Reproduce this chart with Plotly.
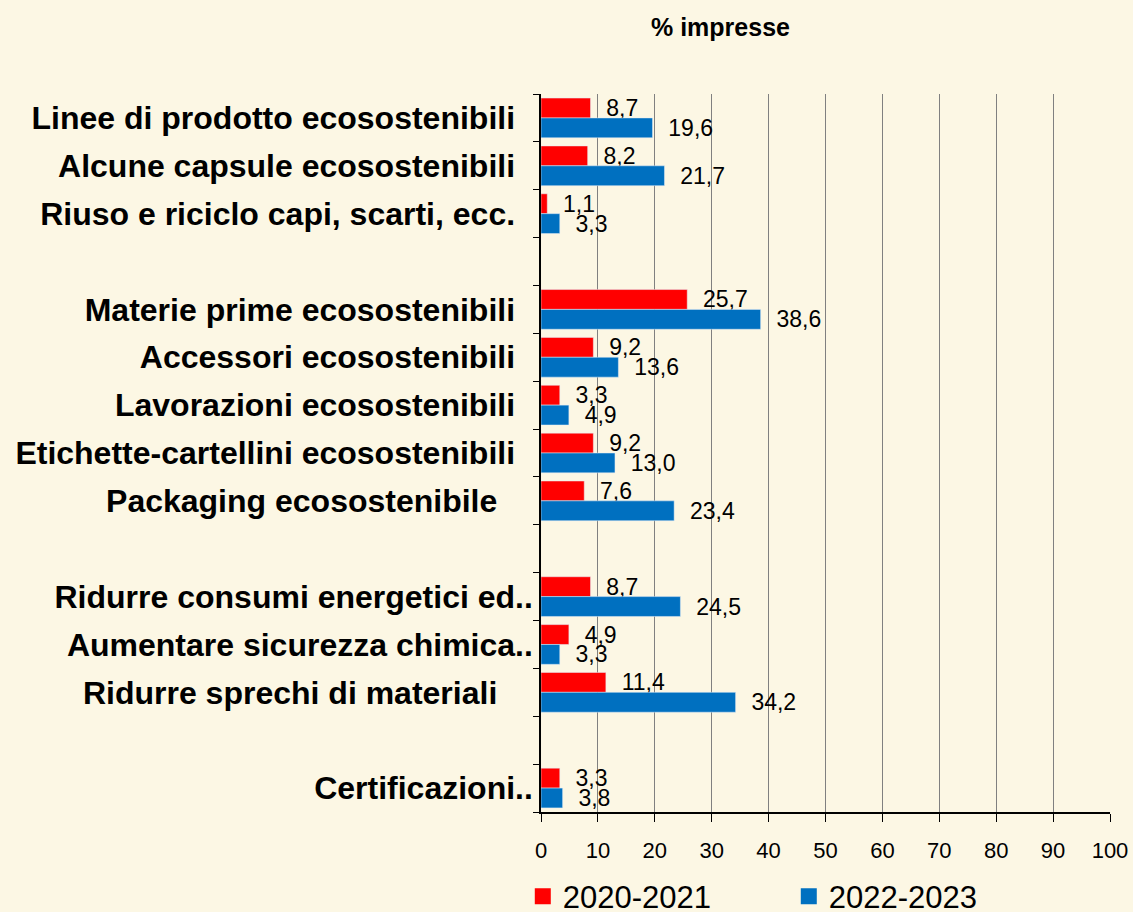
import plotly.graph_objects as go

# categories top to bottom; blank entries are the gaps between groups
categories = [
    "Linee di prodotto ecosostenibili",
    "Alcune capsule ecosostenibili",
    "Riuso e riciclo capi, scarti, ecc.",
    "\u00a0",
    "Materie prime ecosostenibili",
    "Accessori ecosostenibili",
    "Lavorazioni ecosostenibili",
    "Etichette-cartellini ecosostenibili",
    "Packaging ecosostenibile",
    "\u00a0\u00a0",
    "Ridurre consumi energetici ed..",
    "Aumentare sicurezza chimica..",
    "Ridurre sprechi di materiali",
    "\u00a0\u00a0\u00a0",
    "Certificazioni..",
]
values_2020_2021 = [8.7, 8.2, 1.1, None, 25.7, 9.2, 3.3, 9.2, 7.6, None, 8.7, 4.9, 11.4, None, 3.3]
values_2022_2023 = [19.6, 21.7, 3.3, None, 38.6, 13.6, 4.9, 13.0, 23.4, None, 24.5, 3.3, 34.2, None, 3.8]
x_ticks = list(range(0, 101, 10))

BG = "#FCF7E4"
NB = "\u00a0"
# trailing padding so the labels line up like in the original
label_pad = {
    "Packaging ecosostenibile": 4,
    "Ridurre sprechi di materiali": 4,
}
series = [
    ("2020-2021", values_2020_2021, "#FF0000"),
    ("2022-2023", values_2022_2023, "#0070C0"),
]


def fmt(values):
    return [NB + NB + f"{v:.1f}".replace(".", ",") if v is not None else "" for v in values]


fig = go.Figure()
for name, vals, color in series:
    fig.add_trace(go.Bar(
        y=categories, x=vals, orientation="h", name=name, showlegend=False,
        marker_color=color, text=fmt(vals), textposition="outside",
        constraintext="none", cliponaxis=False,
        textfont=dict(size=23, color="black"),
    ))
# legend-only entries, to get the bigger square swatches
for name, vals, color in series:
    fig.add_trace(go.Scatter(
        x=[None], y=[None], mode="markers", name=name,
        marker=dict(symbol="square", size=17, color=color),
    ))

ticktext = []
for c in categories:
    if c.strip(NB) == "" or c.endswith(".."):
        ticktext.append(c)
    else:
        ticktext.append(c + NB * label_pad.get(c, 2))

fig.update_yaxes(
    type="category", autorange="reversed", tickmode="array",
    tickvals=categories, ticktext=ticktext, tickson="boundaries",
    categoryorder="array", categoryarray=categories,
    ticks="outside", ticklen=6, tickcolor="black",
    showline=True, linecolor="black", linewidth=1.5, showgrid=False,
    tickfont=dict(family="Liberation Sans", size=32, color="black", weight="bold"),
)
fig.update_xaxes(
    range=[0, 100], tickvals=x_ticks, ticks="outside", ticklen=8, tickcolor="black",
    showline=True, linecolor="black", linewidth=1.5,
    showgrid=True, gridcolor="#808080", gridwidth=1, zeroline=False,
    tickfont=dict(family="Liberation Sans", size=22, color="black"),
    ticklabelstandoff=10,
)
fig.update_layout(
    width=1133, height=912,
    barmode="group", bargap=0.17, bargroupgap=0,
    paper_bgcolor=BG, plot_bgcolor=BG,
    font=dict(family="Liberation Sans", color="black"),
    margin=dict(l=541, r=23, t=94, b=100, autoexpand=False),
    showlegend=True,
    legend=dict(
        orientation="h", x=-0.032, xanchor="left", y=-0.118, yanchor="middle",
        font=dict(size=31), entrywidth=221, bgcolor="rgba(0,0,0,0)",
        traceorder="normal", itemsizing="trace",
    ),
    annotations=[dict(
        text="<b>% impresse</b>", x=(720 - 541) / 569, y=1 + (94 - 27) / 718,
        xref="paper", yref="paper", xanchor="center", yanchor="middle",
        showarrow=False, font=dict(size=25, color="black"),
    )],
)

fig.write_html(
    "out.html",
    config={"responsive": False, "displayModeBar": False},
    post_script="document.body.style.margin='0';",
)
